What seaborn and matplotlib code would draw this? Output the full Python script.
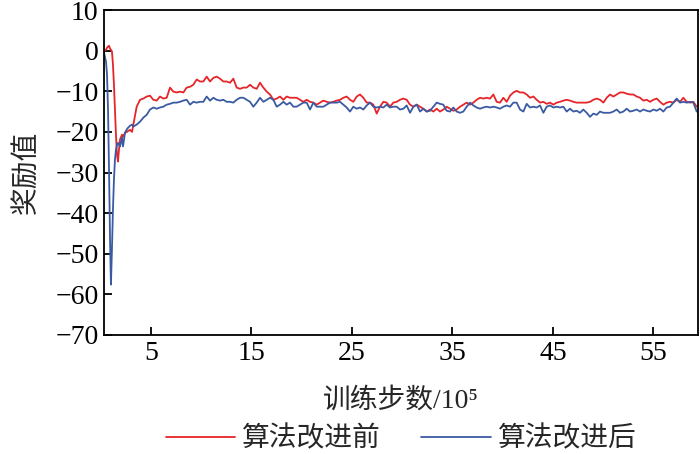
import numpy as np
import pandas as pd
import matplotlib
matplotlib.use("Agg")
import matplotlib.pyplot as plt
import seaborn as sns

# ---------------- data ----------------
series_names = ["算法改进前", "算法改进后"]
colors = ["#e6252a", "#3a5ba3"]

steps_early = [0.33, 0.53, 0.63, 0.73, 0.83, 0.93, 1.02, 1.12, 1.22, 1.32, 1.42, 1.52,
               1.62, 1.72, 1.82, 1.92, 2.12, 2.22, 2.42, 2.62, 2.72, 2.92, 3.12]
steps_late = np.linspace(3.25, 59.30, 170)

red_early = [0.0, 0.2, 0.7, 1.0, 1.2, 0.5, 0.2, -0.2, -3.4, -8.4, -14.5, -20.7,
             -25.6, -27.3, -24.4, -21.9, -20.7, -21.2, -20.2, -20.0, -19.8, -19.5, -20.0]
blue_early = [-0.5, -2.7, -5.9, -14.5, -29.3, -46.6, -57.6, -49.0, -39.2, -31.8, -26.8, -24.4,
              -23.2, -22.7, -23.0, -23.6, -21.4, -23.6, -20.2, -19.3, -19.0, -18.5, -18.2]

red_late = [
    -18.2, -13.8, -12.1, -11.8, -11.3, -11.1, -12.1, -12.3, -11.3, -11.8, -11.6, -9.1,
    -10.1, -10.3, -10.1, -10.3, -9.1, -8.9, -8.4, -7.1, -7.6, -7.6, -6.4, -7.6,
    -6.7, -6.4, -6.9, -7.6, -7.6, -7.9, -6.9, -9.1, -9.4, -9.1, -9.1, -8.4,
    -9.1, -9.4, -7.9, -9.1, -10.1, -10.8, -12.1, -11.8, -11.3, -12.1, -11.3, -11.6, -11.6,
    -11.6, -12.1, -12.6, -12.1, -12.6, -12.8, -13.3, -12.8, -12.3, -12.6, -12.8, -12.6,
    -12.3, -12.1, -11.6, -11.3, -12.1, -12.6, -11.3, -10.8, -11.6, -12.8, -12.8, -13.3,
    -15.5, -13.8, -12.6, -12.8, -13.8, -12.8,
    -12.6, -12.1, -11.8, -12.1, -13.3, -13.8, -13.3, -13.8, -14.3, -15.0, -14.5, -15.0,
    -14.3, -15.0, -14.5, -13.8, -14.3, -14.8, -14.5, -13.8, -13.3, -12.8, -13.3, -12.8,
    -12.1, -11.6, -11.8, -11.6, -11.8, -10.8,
    -12.6, -12.8, -11.6, -12.6, -11.1, -10.3, -9.9, -10.3, -10.3, -10.8, -11.6, -11.3,
    -12.1, -12.8, -12.6, -13.1, -12.8, -13.3, -12.8, -12.6, -12.3, -12.1, -12.3, -12.6,
    -12.8, -12.8, -12.8, -12.8, -12.6, -12.1,
    -11.8, -12.1, -12.8, -11.6, -10.8, -11.3, -10.8, -10.3, -10.3, -10.6, -10.8, -10.8,
    -11.3, -11.6, -12.3, -12.1, -12.6, -12.1, -11.8, -12.6, -13.3, -12.8, -12.6, -12.8,
    -12.1, -12.6, -11.6, -12.6, -12.8, -12.6, -13.8,
]
blue_late = [
    -18.7, -18.2, -17.5, -16.5, -15.8, -14.5, -14.0, -14.3, -14.0, -13.8, -13.3, -13.1,
    -12.8, -12.8, -12.6, -12.3, -12.1, -13.3, -12.6, -12.8, -12.6, -12.6, -11.3, -12.3,
    -11.6, -12.1, -12.3, -12.1, -12.6, -12.6, -12.8, -12.1, -11.6, -11.6, -12.1, -12.6,
    -13.8, -12.8, -11.6, -12.6, -12.1, -11.6, -12.1, -13.8, -13.3, -12.6, -13.3, -12.8, -13.8,
    -13.8, -13.3, -12.8, -12.8, -14.5, -12.8, -13.8, -13.8, -13.8, -13.3, -12.8, -12.8,
    -12.8, -12.6, -13.3, -14.0, -15.0, -13.8, -14.3, -14.0, -14.5, -13.5, -12.8, -13.8,
    -14.0, -13.8, -14.0, -13.3, -14.0, -13.8,
    -13.8, -14.5, -14.3, -13.5, -15.3, -13.8, -13.3, -15.0, -14.3, -15.0, -14.8, -13.8,
    -12.8, -13.1, -13.3, -14.8, -15.0, -14.0, -15.0, -15.3, -15.0, -13.8, -12.8, -13.5,
    -14.0, -14.3, -14.0, -13.8, -14.0, -13.8,
    -14.0, -14.3, -13.8, -13.5, -13.8, -12.8, -12.8, -14.5, -15.0, -13.1, -14.0, -13.8,
    -14.0, -13.5, -15.3, -13.8, -13.5, -14.0, -13.8, -14.0, -13.8, -15.0, -14.3, -15.0,
    -14.8, -15.3, -14.5, -15.3, -16.3, -15.5,
    -15.8, -15.0, -15.3, -15.3, -15.3, -15.0, -14.5, -15.3, -15.0, -14.3, -15.0, -14.8,
    -14.5, -15.0, -14.5, -14.8, -15.0, -14.5, -14.8, -14.3, -15.0, -14.0, -13.8, -12.8,
    -11.8, -12.8, -12.6, -12.8, -12.6, -12.8, -15.0,
]

x_ticks = [5, 15, 25, 35, 45, 55]
y_ticks = [10, 0, -10, -20, -30, -40, -50, -60, -70]

# ---------------- table ----------------
steps = list(steps_early) + list(steps_late)
df = pd.concat([
    pd.DataFrame({"step": steps, "reward": red_early + red_late, "series": series_names[0]}),
    pd.DataFrame({"step": steps, "reward": blue_early + blue_late, "series": series_names[1]}),
], ignore_index=True)

# ---------------- style ----------------
sns.set_style("ticks")
plt.rcParams["font.family"] = ["Liberation Serif", "Noto Sans CJK SC", "DejaVu Sans"]
plt.rcParams["axes.unicode_minus"] = True

FS = 20

fig = plt.figure(figsize=(7.0, 4.54), dpi=100)
ax = fig.add_axes([104 / 700, 1 - 335 / 454, 594 / 700, 325 / 454])

sns.lineplot(data=df, x="step", y="reward", hue="series", hue_order=series_names,
             palette=colors, linewidth=1.3, ax=ax, estimator=None, sort=False)

ax.set_xlim(0.33, 59.43)
ax.set_ylim(-70, 10)
ax.set_xticks(x_ticks)
ax.set_yticks(y_ticks)
ax.tick_params(direction="in", length=6, width=1.3, labelsize=FS, colors="black",
               top=False, right=False, pad=4)
for s in ax.spines.values():
    s.set_visible(True)
    s.set_linewidth(1.3)
    s.set_color("black")

ax.set_xlabel("训练步数/10⁵", fontsize=FS, labelpad=16)
ax.set_ylabel("奖励值", fontsize=FS, labelpad=11)

handles, labels = ax.get_legend_handles_labels()
ax.legend(handles, labels, loc="center", bbox_to_anchor=(0.5, -0.32), ncol=2,
          frameon=False, fontsize=FS, handlelength=2.5, handletextpad=0.25,
          columnspacing=1.45)

fig.savefig("out.png", dpi=100)
